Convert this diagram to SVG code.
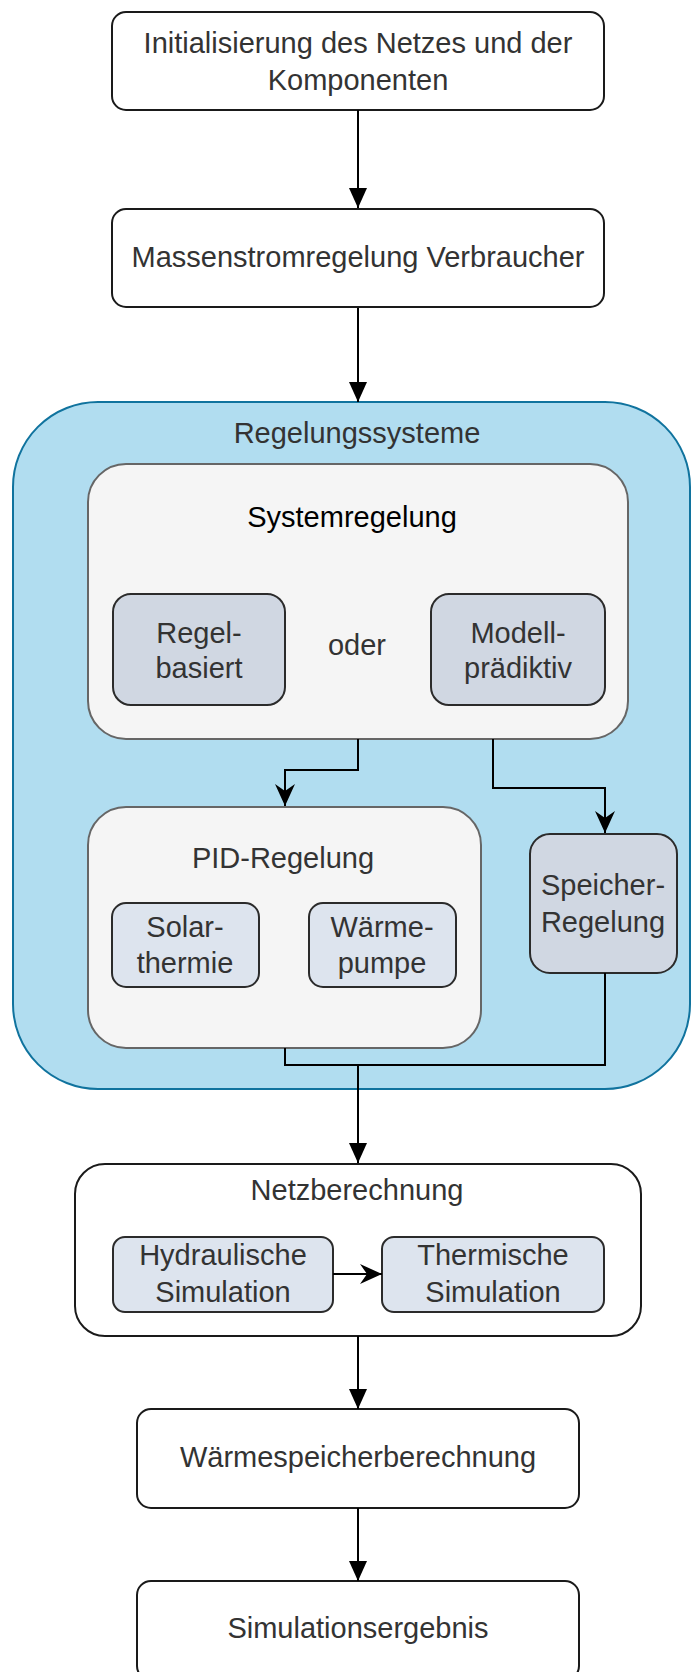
<svg xmlns="http://www.w3.org/2000/svg" width="692" height="1672" viewBox="0 0 692 1672">
<style>
  text { font-family: "Liberation Sans", Arial, Helvetica, sans-serif; font-size: 29px; fill: #333333; text-anchor: middle; }
  .main { fill: #ffffff; stroke: #1a1a1a; stroke-width: 2; }
  .grp { fill: #f5f5f5; stroke: #666666; stroke-width: 2; }
  .dark { fill: #d0d7e2; stroke: #2b2b2b; stroke-width: 2; }
  .light { fill: #dde4ee; stroke: #2b2b2b; stroke-width: 2; }
  .edge { fill: none; stroke: #000000; stroke-width: 2; }
  .black { fill: #000000; }
</style>
<defs>
  <marker id="block" viewBox="0 0 20 18" refX="20" refY="9" markerWidth="20" markerHeight="18" markerUnits="userSpaceOnUse" orient="auto">
    <path d="M0,0 L20,9 L0,18 Z" fill="#000"/>
  </marker>
  <marker id="classic" viewBox="0 0 22 20" refX="22" refY="10" markerWidth="22" markerHeight="20" markerUnits="userSpaceOnUse" orient="auto">
    <path d="M0,0 L22,10 L0,20 L7,10 Z" fill="#000"/>
  </marker>
</defs>

<g id="container-regelungssysteme">
  <rect x="13" y="402" width="677" height="687" rx="85" ry="85" fill="#b1ddf0" stroke="#10739e" stroke-width="2"/>
  <text x="357" y="443">Regelungssysteme</text>
</g>

<g id="node-init">
  <rect class="main" x="112" y="12" width="492" height="98" rx="14"/>
  <text x="358" y="53">Initialisierung des Netzes und der</text>
  <text x="358" y="90">Komponenten</text>
</g>

<g id="node-massenstrom">
  <rect class="main" x="112" y="209" width="492" height="98" rx="14"/>
  <text x="358" y="267">Massenstromregelung Verbraucher</text>
</g>

<g id="node-systemregelung">
  <rect class="grp" x="88" y="464" width="540" height="275" rx="38"/>
  <text class="black" x="352" y="527" font-size="30">Systemregelung</text>
  <text x="357" y="655">oder</text>
</g>

<g id="node-regelbasiert">
  <rect class="dark" x="113" y="594" width="172" height="111" rx="18"/>
  <text x="199" y="643">Regel-</text>
  <text x="199" y="678">basiert</text>
</g>

<g id="node-modellpraediktiv">
  <rect class="dark" x="431" y="594" width="174" height="111" rx="18"/>
  <text x="518" y="643">Modell-</text>
  <text x="518" y="678">prädiktiv</text>
</g>

<g id="node-pid">
  <rect class="grp" x="88" y="807" width="393" height="241" rx="38"/>
  <text x="283" y="868">PID-Regelung</text>
</g>

<g id="node-solarthermie">
  <rect class="light" x="112" y="903" width="147" height="84" rx="14"/>
  <text x="185" y="937">Solar-</text>
  <text x="185" y="973">thermie</text>
</g>

<g id="node-waermepumpe">
  <rect class="light" x="309" y="903" width="147" height="84" rx="14"/>
  <text x="382" y="937">Wärme-</text>
  <text x="382" y="973">pumpe</text>
</g>

<g id="node-speicherregelung">
  <rect class="dark" x="530" y="834" width="147" height="139" rx="20"/>
  <text x="603" y="895">Speicher-</text>
  <text x="603" y="932">Regelung</text>
</g>

<g id="node-netzberechnung">
  <rect class="main" x="75" y="1164" width="566" height="172" rx="30"/>
  <text x="357" y="1200">Netzberechnung</text>
</g>

<g id="node-hydraulisch">
  <rect class="light" x="113" y="1237" width="220" height="75" rx="12"/>
  <text x="223" y="1265">Hydraulische</text>
  <text x="223" y="1302">Simulation</text>
</g>

<g id="node-thermisch">
  <rect class="light" x="382" y="1237" width="222" height="75" rx="12"/>
  <text x="493" y="1265">Thermische</text>
  <text x="493" y="1302">Simulation</text>
</g>

<g id="node-waermespeicher">
  <rect class="main" x="137" y="1409" width="442" height="99" rx="14"/>
  <text x="358" y="1467">Wärmespeicherberechnung</text>
</g>

<g id="node-ergebnis">
  <rect class="main" x="137" y="1581" width="442" height="99" rx="14"/>
  <text x="358" y="1638">Simulationsergebnis</text>
</g>

<g id="connectors">
  <path class="edge" d="M358,110 L358,208" marker-end="url(#block)"/>
  <path class="edge" d="M358,308 L358,402" marker-end="url(#block)"/>
  <path class="edge" d="M358,739 L358,770 L285,770 L285,806" marker-end="url(#classic)"/>
  <path class="edge" d="M493,739 L493,788 L605,788 L605,833" marker-end="url(#classic)"/>
  <path class="edge" d="M285,1048 L285,1065 L605,1065 L605,973"/>
  <path class="edge" d="M358,1065 L358,1163" marker-end="url(#block)"/>
  <path class="edge" d="M333,1274 L382,1274" marker-end="url(#classic)"/>
  <path class="edge" d="M358,1336 L358,1409" marker-end="url(#block)"/>
  <path class="edge" d="M358,1508 L358,1581" marker-end="url(#block)"/>
</g>
</svg>
